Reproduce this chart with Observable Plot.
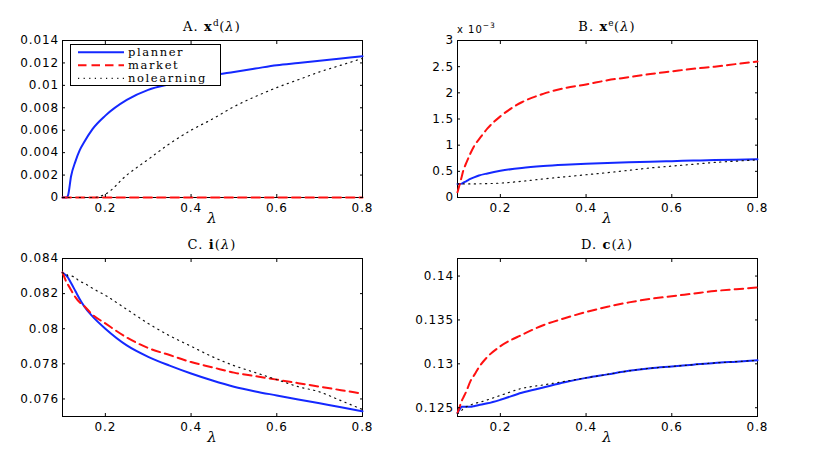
<!DOCTYPE html>
<html>
<head>
<meta charset="utf-8">
<script src="https://cdn.jsdelivr.net/npm/d3@7"></script>
<script src="https://cdn.jsdelivr.net/npm/@observablehq/plot@0.6"></script>
<style>
  body { margin: 0; background: #fff; }
  #wrap { position: relative; width: 832px; height: 453px; overflow: hidden; background: #fff; }
  .panel { position: absolute; }
  .title { position: absolute; width: 240px; text-align: center; white-space: nowrap;
           font-family: "DejaVu Serif", serif; font-size: 13px; line-height: 13px; letter-spacing: 1.1px; color: #000; }
  .title sup { font-size: 9px; line-height: 0; vertical-align: 5px; letter-spacing: 0.5px; }
  .mult { position: absolute; font-family: "DejaVu Sans", sans-serif; font-size: 10px; line-height: 10px; letter-spacing: 1px; color: #000; white-space: nowrap; }
  .mult sup { font-size: 7.5px; line-height: 0; vertical-align: 5px; }
  #legend { position: absolute; }
</style>
</head>
<body>
<div id="wrap"></div>
<script>
// ---- data ----
const lambda = [0.1, 0.105, 0.11, 0.113, 0.12, 0.13, 0.14, 0.15, 0.17, 0.2, 0.25, 0.3, 0.35, 0.4, 0.45, 0.5, 0.55, 0.6, 0.65, 0.7, 0.75, 0.8];

// A. x^d(lambda)
const xdPlanner = [0, 0, 0, 0.0002, 0.0019, 0.0032, 0.0042, 0.0049, 0.0061, 0.0073, 0.0087, 0.0096, 0.0101, 0.0105, 0.0109, 0.0112, 0.0115, 0.0118, 0.0120, 0.0122, 0.0124, 0.0126];
const xdMarket = [0, 0, 0, 0, 0, 0, 0, 0, 0, 0, 0, 0, 0, 0, 0, 0, 0, 0, 0, 0, 0, 0];
const xdNolearning = [0, 0, 0, 0, 0, 0, 0, 0, 0, 0.0003, 0.0020, 0.0034, 0.0048, 0.0060, 0.0070, 0.0081, 0.0090, 0.0098, 0.0105, 0.0112, 0.0118, 0.0124];

// B. x^e(lambda), in units of 10^-3
const xePlanner = [0.26, 0.26, 0.265, 0.28, 0.31, 0.355, 0.39, 0.42, 0.46, 0.51, 0.565, 0.60, 0.625, 0.645, 0.66, 0.675, 0.685, 0.695, 0.705, 0.715, 0.722, 0.73];
const xeMarket = [0.1, 0.25, 0.4, 0.5, 0.65, 0.84, 1.0, 1.11, 1.32, 1.55, 1.82, 1.98, 2.09, 2.16, 2.24, 2.30, 2.36, 2.41, 2.46, 2.50, 2.55, 2.60];
const xeNolearning = [0.26, 0.26, 0.26, 0.26, 0.26, 0.26, 0.26, 0.262, 0.265, 0.275, 0.31, 0.355, 0.395, 0.435, 0.475, 0.52, 0.565, 0.60, 0.635, 0.67, 0.695, 0.72];

// C. i(lambda)
const iPlanner = [0.0832, 0.0831, 0.0830, 0.0829, 0.0826, 0.08215, 0.0817, 0.0813, 0.0807, 0.0800, 0.07905, 0.0784, 0.0779, 0.07745, 0.07705, 0.0767, 0.07643, 0.0762, 0.07597, 0.07575, 0.07553, 0.0753];
const iMarket = [0.0832, 0.0829, 0.0826, 0.0825, 0.0822, 0.0818, 0.0815, 0.0813, 0.0808, 0.0803, 0.0795, 0.0789, 0.0785, 0.0781, 0.0778, 0.0775, 0.0773, 0.0771, 0.0769, 0.0767, 0.0765, 0.0763];
const iNolearning = [0.0832, 0.0831, 0.0831, 0.0830, 0.0830, 0.0829, 0.0827, 0.0826, 0.0823, 0.0819, 0.0811, 0.0803, 0.0796, 0.0790, 0.0784, 0.0779, 0.0775, 0.0771, 0.0767, 0.0764, 0.0759, 0.0754];

// D. c(lambda)
const cPlanner = [0.1244, 0.1248, 0.1251, 0.1251, 0.1251, 0.1251, 0.1252, 0.1253, 0.1255, 0.1259, 0.1267, 0.1273, 0.1279, 0.1284, 0.1288, 0.1292, 0.1295, 0.1297, 0.1299, 0.1301, 0.13025, 0.1304];
const cMarket = [0.1244, 0.1251, 0.1258, 0.1261, 0.1268, 0.1280, 0.1288, 0.1296, 0.1308, 0.1320, 0.1333, 0.1344, 0.1352, 0.1359, 0.1365, 0.1370, 0.1374, 0.1377, 0.1380, 0.1383, 0.1385, 0.1387];
const cNolearning = [0.1243, 0.1245, 0.1247, 0.1249, 0.1251, 0.1253, 0.1255, 0.1256, 0.1259, 0.1264, 0.1272, 0.1276, 0.1280, 0.1284, 0.1288, 0.1292, 0.1295, 0.1297, 0.1299, 0.1301, 0.13025, 0.1304];

// ticks
const xTicks = [0.2, 0.4, 0.6, 0.8];
const yTicksA = [0, 0.002, 0.004, 0.006, 0.008, 0.01, 0.012, 0.014];
const yTicksB = [0, 0.5, 1, 1.5, 2, 2.5, 3];
const yTicksC = [0.076, 0.078, 0.08, 0.082, 0.084];
const yTicksD = [0.125, 0.13, 0.135, 0.14];

const seriesNames = ["planner", "market", "nolearning"];

// ---- styles ----
const styles = {
  planner: {stroke: "#1428ff", strokeWidth: 2},
  market: {stroke: "#ff1010", strokeWidth: 2, strokeDasharray: "8.5,5"},
  nolearning: {stroke: "#111", strokeWidth: 1.2, strokeDasharray: "1.2,4.4"}
};

const fmt = d3.format("~g");

function makePanel({p, m, n, yDomain, yTicks, left, top, height, marginLeft, marginRight}) {
  const rows = (vals) => lambda.map((l, i) => ({l, v: vals[i]}));
  const chart = Plot.plot({
    width: 416,
    height,
    marginLeft,
    marginRight,
    marginTop: 40,
    marginBottom: height - 40 - (height === 226 ? 157 : 158),
    x: {domain: [0.1, 0.8]},
    y: {domain: yDomain},
    style: {fontFamily: "'DejaVu Sans', sans-serif", fontSize: "12px", letterSpacing: "0.9px", color: "#000", background: "transparent", overflow: "visible"},
    marks: [
      Plot.frame({stroke: "#000", strokeWidth: 1}),
      Plot.line(rows(p), {x: "l", y: "v", curve: "monotone-x", ...styles.planner}),
      Plot.line(rows(m), {x: "l", y: "v", curve: "monotone-x", ...styles.market}),
      Plot.line(rows(n), {x: "l", y: "v", curve: "monotone-x", ...styles.nolearning}),
      Plot.axisX({ticks: xTicks, tickSize: -3, tickPadding: 9, tickFormat: fmt, label: null}),
      Plot.axisX({anchor: "top", ticks: xTicks, tickSize: -3, fill: "none", label: null}),
      Plot.axisY({ticks: yTicks, tickSize: -3, tickPadding: 6.5, tickFormat: fmt, label: null}),
      Plot.axisY({anchor: "right", ticks: yTicks, tickSize: -3, fill: "none", label: null}),
      Plot.text(["λ"], {text: d => d, frameAnchor: "bottom", dy: 25, lineAnchor: "bottom", fontFamily: "'DejaVu Serif', serif", fontStyle: "italic", fontSize: 15})
    ]
  });
  chart.classList.add("panel");
  chart.style.left = left + "px";
  chart.style.top = top + "px";
  return chart;
}

const wrap = document.getElementById("wrap");

wrap.appendChild(makePanel({p: xdPlanner, m: xdMarket, n: xdNolearning, yDomain: [0, 0.014], yTicks: yTicksA,
  left: 0, top: 0, height: 226, marginLeft: 62, marginRight: 54}));
wrap.appendChild(makePanel({p: xePlanner, m: xeMarket, n: xeNolearning, yDomain: [0, 3], yTicks: yTicksB,
  left: 416, top: 0, height: 226, marginLeft: 41, marginRight: 75}));
wrap.appendChild(makePanel({p: iPlanner, m: iMarket, n: iNolearning, yDomain: [0.075, 0.084], yTicks: yTicksC,
  left: 0, top: 218, height: 227, marginLeft: 62, marginRight: 54}));
wrap.appendChild(makePanel({p: cPlanner, m: cMarket, n: cNolearning, yDomain: [0.124, 0.142], yTicks: yTicksD,
  left: 416, top: 218, height: 227, marginLeft: 41, marginRight: 75}));

// titles
const titles = [
  {html: "A. <b>x</b><sup>d</sup>(<i>λ</i>)", cx: 212, top: 20},
  {html: "B. <b>x</b><sup>e</sup>(<i>λ</i>)", cx: 607, top: 20},
  {html: "C. <b>i</b>(<i>λ</i>)", cx: 212, top: 238},
  {html: "D. <b>c</b>(<i>λ</i>)", cx: 607, top: 238}
];
for (const t of titles) {
  const d = document.createElement("div");
  d.className = "title";
  d.innerHTML = t.html;
  d.style.left = (t.cx - 120) + "px";
  d.style.top = t.top + "px";
  wrap.appendChild(d);
}

// exponent multiplier for panel B
const mult = document.createElement("div");
mult.className = "mult";
mult.innerHTML = "x 10<sup>−3</sup>";
mult.style.left = "457px";
mult.style.top = "25px";
wrap.appendChild(mult);

// legend (panel A)
const svgNS = "http://www.w3.org/2000/svg";
const leg = document.createElementNS(svgNS, "svg");
leg.setAttribute("id", "legend");
leg.setAttribute("width", 152);
leg.setAttribute("height", 43);
leg.style.left = "70px";
leg.style.top = "44px";
const box = document.createElementNS(svgNS, "rect");
box.setAttribute("x", 0.5); box.setAttribute("y", 0.5);
box.setAttribute("width", 150); box.setAttribute("height", 41);
box.setAttribute("fill", "#fff"); box.setAttribute("stroke", "#000");
leg.appendChild(box);
seriesNames.forEach((name, i) => {
  const y = 8.3 + i * 13;
  const ln = document.createElementNS(svgNS, "line");
  ln.setAttribute("x1", 8); ln.setAttribute("x2", 54);
  ln.setAttribute("y1", y); ln.setAttribute("y2", y);
  const s = styles[name];
  ln.setAttribute("stroke", s.stroke);
  ln.setAttribute("stroke-width", s.strokeWidth);
  if (s.strokeDasharray) ln.setAttribute("stroke-dasharray", s.strokeDasharray);
  leg.appendChild(ln);
  const tx = document.createElementNS(svgNS, "text");
  tx.setAttribute("x", 58);
  tx.setAttribute("y", y + 3.5);
  tx.setAttribute("font-family", "'DejaVu Serif', serif");
  tx.setAttribute("font-size", 11.5);
  tx.setAttribute("letter-spacing", "1.6px");
  tx.setAttribute("fill", "#000");
  tx.textContent = name;
  leg.appendChild(tx);
});
wrap.appendChild(leg);
</script>
</body>
</html>
